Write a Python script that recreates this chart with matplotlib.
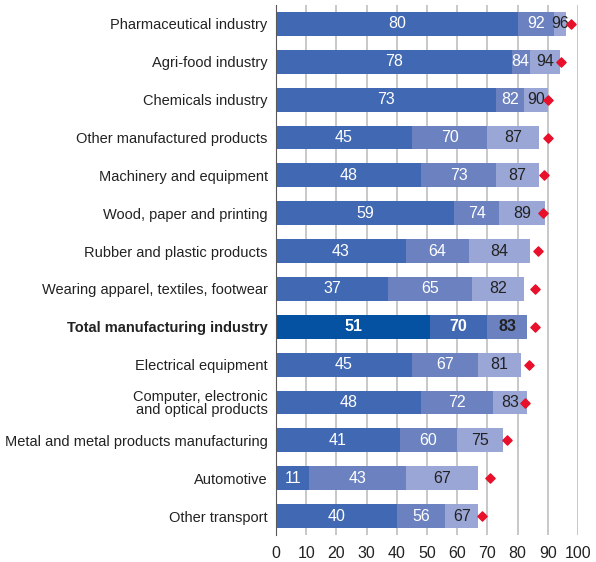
import matplotlib.pyplot as plt
import numpy as np

plt.rcParams['font.family'] = ['Liberation Sans', 'DejaVu Sans']

categories = [
    "Pharmaceutical industry",
    "Agri-food industry",
    "Chemicals industry",
    "Other manufactured products",
    "Machinery and equipment",
    "Wood, paper and printing",
    "Rubber and plastic products",
    "Wearing apparel, textiles, footwear",
    "Total manufacturing industry",
    "Electrical equipment",
    "Computer, electronic\nand optical products",
    "Metal and metal products manufacturing",
    "Automotive",
    "Other transport",
]
level1 = [80, 78, 73, 45, 48, 59, 43, 37, 51, 45, 48, 41, 11, 40]
level2 = [92, 84, 82, 70, 73, 74, 64, 65, 70, 67, 72, 60, 43, 56]
level3 = [96, 94, 90, 87, 87, 89, 84, 82, 83, 81, 83, 75, 67, 67]
marker_vals = [97.6, 94.5, 90.2, 90.2, 88.6, 88.4, 86.8, 85.7, 85.7, 83.7, 82.4, 76.5, 70.8, 68.1]
total_label = "Total manufacturing industry"

c_dark = "#4169b3"
c_mid = "#6c82c0"
c_light = "#9aa6d5"
t_dark = "#0552a2"

fig = plt.figure(figsize=(5.96, 5.62), dpi=100)
ax = fig.add_axes([276 / 596, 27 / 562, 302 / 596, 530 / 562])

y = np.arange(len(categories))
h = 0.63
for i, cat in enumerate(categories):
    is_total = cat == total_label
    cols = [t_dark, c_dark, c_mid] if is_total else [c_dark, c_mid, c_light]
    lefts = [0, level1[i], level2[i]]
    rights = [level1[i], level2[i], level3[i]]
    for k in range(3):
        ax.barh(y[i], rights[k] - lefts[k], left=lefts[k], height=h,
                color=cols[k], zorder=2)
        tc = "white" if k < 2 else "#222222"
        ax.text((lefts[k] + rights[k]) / 2, y[i], str(rights[k]),
                ha="center", va="center", color=tc, fontsize=11.5,
                fontweight="bold" if is_total else "normal", zorder=3)

ax.scatter(marker_vals, y, marker="D", s=22, color="#e8102a", zorder=4)

ax.set_xlim(0, 100)
ax.set_ylim(len(categories) - 0.5, -0.5)
ax.set_xticks(range(0, 101, 10))
ax.set_yticks(y)
ax.set_yticklabels(categories, fontsize=10.5, linespacing=0.95)
for lab in ax.get_yticklabels():
    if lab.get_text() == total_label:
        lab.set_fontweight("bold")
ax.tick_params(axis="x", labelsize=11.5, length=0, pad=8, colors="#222222")
ax.tick_params(axis="y", length=0, pad=6, colors="#222222")
ax.xaxis.grid(True, color="#bfbfbf", linewidth=1.2, zorder=0)
ax.set_axisbelow(True)
for s in ["top", "right", "bottom"]:
    ax.spines[s].set_visible(False)
ax.spines["left"].set_color("#595959")
ax.spines["left"].set_zorder(5)

fig.savefig("out.png", dpi=100)
